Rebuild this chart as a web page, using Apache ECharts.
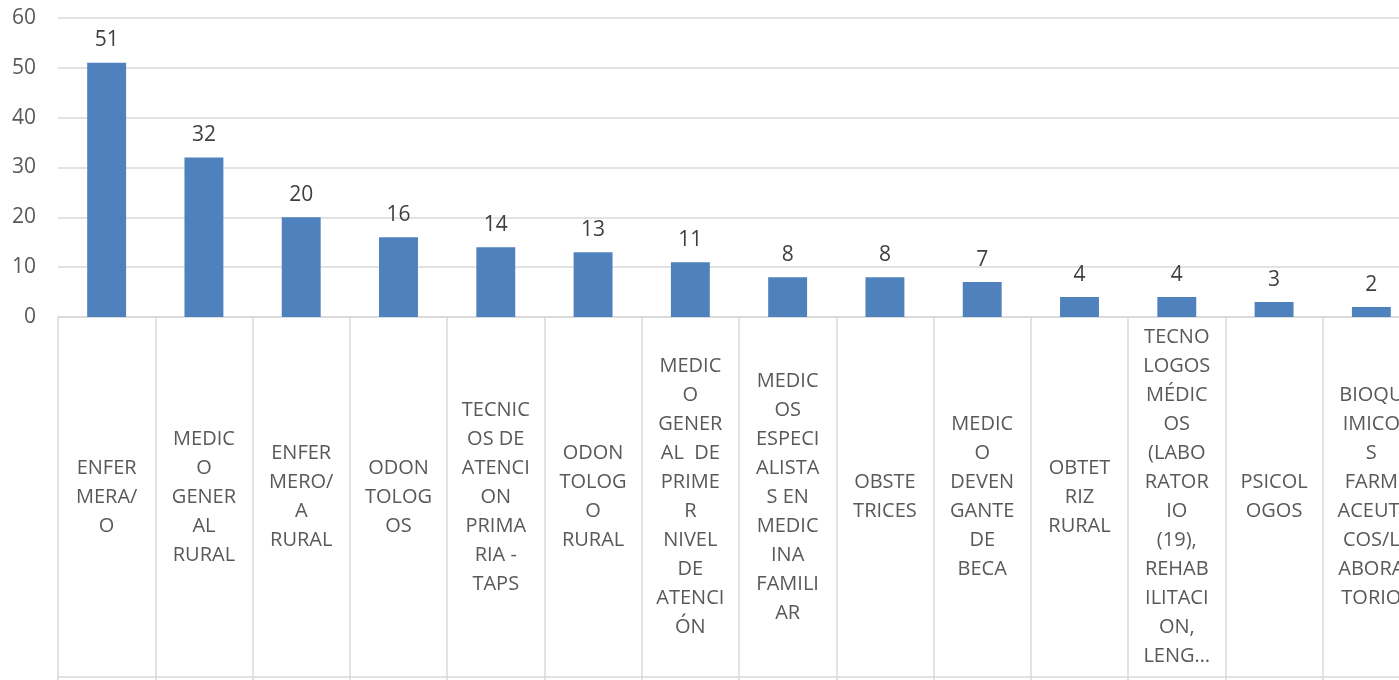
<!DOCTYPE html>
<html>
<head>
<meta charset="utf-8">
<script src="https://cdn.jsdelivr.net/npm/echarts@6/dist/echarts.min.js"></script>
<style>
  html, body { margin: 0; padding: 0; background: #fff; overflow: hidden; }
  #chart { width: 1399px; height: 680px; }
</style>
</head>
<body>
<div id="chart"></div>
<script>
// categorias (ya partidas en lineas como en la imagen)
var categorias = [
	'ENFER\nMERA/\nO',
	'MEDIC\nO\nGENER\nAL\nRURAL',
	'ENFER\nMERO/\nA\nRURAL',
	'ODON\nTOLOG\nOS',
	'TECNIC\nOS DE\nATENCI\nON\nPRIMA\nRIA -\nTAPS',
	'ODON\nTOLOG\nO\nRURAL',
	'MEDIC\nO\nGENER\nAL  DE\nPRIME\nR\nNIVEL\nDE\nATENCI\nÓN',
	'MEDIC\nOS\nESPECI\nALISTA\nS EN\nMEDIC\nINA\nFAMILI\nAR',
	'OBSTE\nTRICES',
	'MEDIC\nO\nDEVEN\nGANTE\nDE\nBECA',
	'OBTET\nRIZ\nRURAL',
	'TECNO\nLOGOS\nMÉDIC\nOS\n(LABO\nRATOR\nIO\n(19),\nREHAB\nILITACI\nON,\nLENG…',
	'PSICOL\nOGOS',
	'BIOQU\nIMICO\nS\nFARM\nACEUTI\nCOS/L\nABORA\nTORIO'
];
var cantidades = [51, 32, 20, 16, 14, 13, 11, 8, 8, 7, 4, 4, 3, 2];

var fuente = '"Open Sans", "Noto Sans", sans-serif';
var gris = '#595959';
var linea = '#d9d9d9';

var myChart = echarts.init(document.getElementById('chart'));
var option = {
	animation: false,
	grid: {
		left: 58,
		width: 1362,
		top: 18,
		bottom: 363,
		containLabel: false,
		outerBoundsMode: 'none'
	},
	xAxis: [
		{
			type: 'category',
			data: categorias,
			axisLine: { show: true, lineStyle: { color: linea, width: 1.5 } },
			axisTick: { show: true, length: 363, lineStyle: { color: linea, width: 1.5 } },
			axisLabel: {
				interval: 0,
				margin: 180,
				verticalAlign: 'middle',
				color: gris,
				fontFamily: fuente,
				fontSize: 20,
				lineHeight: 29
			}
		},
		{
			type: 'category',
			data: categorias,
			position: 'bottom',
			offset: 360,
			axisLine: { show: true, lineStyle: { color: linea, width: 1.5 } },
			axisTick: { show: false },
			axisLabel: { show: false }
		}
	],
	yAxis: {
		type: 'value',
		min: 0,
		max: 60,
		interval: 10,
		axisLine: { show: false },
		axisTick: { show: false },
		splitLine: { lineStyle: { color: linea, width: 1.5 } },
		axisLabel: {
			margin: 22,
			color: gris,
			fontFamily: fuente,
			fontSize: 21
		}
	},
	series: [
		{
			name: 'Cantidad',
			type: 'bar',
			barWidth: '40%',
			data: cantidades,
			itemStyle: { color: '#4f81bd' },
			label: {
				show: true,
				position: 'top',
				distance: 12,
				color: '#404040',
				fontFamily: fuente,
				fontSize: 21
			}
		}
	]
};
myChart.setOption(option);
</script>
</body>
</html>
